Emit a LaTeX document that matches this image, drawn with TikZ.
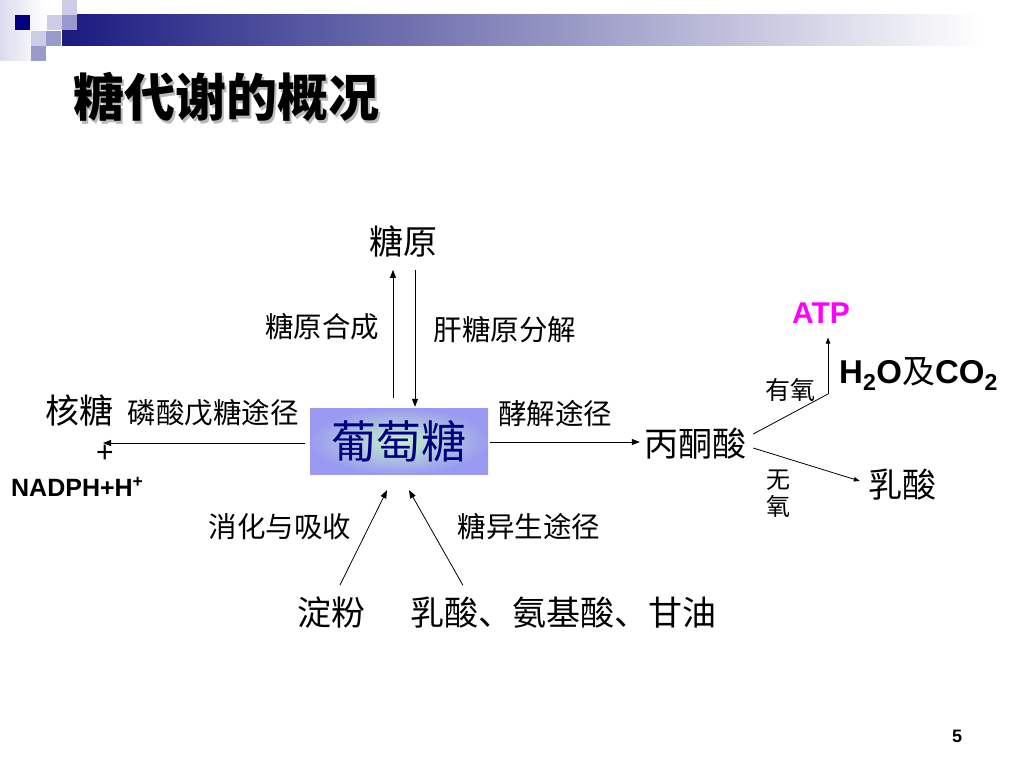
\documentclass[tikz,border=0pt]{standalone}
\usepackage{fontspec}
\usepackage{xcolor}
\setmainfont{Liberation Sans}
\newfontfamily\cjk{Noto Sans CJK SC}
\usetikzlibrary{arrows.meta}
\definecolor{navy}{HTML}{000080}
\definecolor{bandblue}{HTML}{1A1A80}
\definecolor{bandmid}{HTML}{B4B4CC}
\definecolor{lav}{HTML}{9999CC}
\definecolor{lavlight}{HTML}{CCCCE6}
\definecolor{boxblue}{HTML}{9A9AF2}
\definecolor{boxgreen}{HTML}{C6F2C6}
\definecolor{atpcolor}{HTML}{FF00FF}

\begin{document}
\begin{tikzpicture}[x = 1pt, y = -1pt,
    label/.style = {inner sep = 0pt, font = \cjk\fontsize{28.5}{30}\selectfont},
    compound/.style = {inner sep = 0pt, font = \cjk\fontsize{34}{36}\selectfont},
    latin/.style = {inner sep = 0pt, font = \bfseries\fontsize{25}{27}\selectfont},
    flow/.style = {-{Triangle[length = 8pt, width = 6pt]}, line width = .8pt},
    branch/.style = {-{Triangle[length = 6pt, width = 4.5pt]}, line width = .8pt}]
      \useasboundingbox (0, 0) rectangle (1024, 768);
      \shade[left color = lavlight!70, right color = white] (0, 0) rectangle (45, 60);
      \shade[left color = bandblue, middle color = bandmid, right color = white] (62, 15) rectangle (980, 46);
      \fill[navy] (15, 15) rectangle (30, 30);
      \fill[lavlight] (47, 15) rectangle (62, 30);
      \fill[lavlight] (62, 0) rectangle (77, 15);
      \fill[lav] (62, 15) rectangle (77, 30);
      \fill[lavlight] (31, 31) rectangle (46, 46);
      \fill[lav] (46, 31) rectangle (61, 46);
      \fill[lav] (31, 46) rectangle (46, 61);
      \node [inner sep = 0pt, font = \cjk\bfseries\fontsize{51}{54}\selectfont, text = gray!55] (shadow) at (228.5, 99.5) {糖代谢的概况};
      \node [inner sep = 0pt, font = \cjk\bfseries\fontsize{51}{54}\selectfont] (title) at (226, 97) {糖代谢的概况};
      \node [inner sep = 0pt, minimum width = 178pt, minimum height = 66pt, inner color = boxgreen, outer color = boxblue, text = navy, font = \cjk\fontsize{45}{48}\selectfont] (glucose) at (399, 441) {葡萄糖};
      \node [compound] (glycogen) at (403, 242) {糖原};
      \node [label] (synth) at (322, 327) {糖原合成};
      \node [label] (lysis) at (505, 330) {肝糖原分解};
      \node [compound] (ribose) at (79, 411) {核糖};
      \node [label] (ppp) at (213, 413) {磷酸戊糖途径};
      \node [inner sep = 0pt, font = \fontsize{30}{30}\selectfont] (plus) at (105, 454) {+};
      \node [latin, anchor = west] (nadph) at (11, 487) {NADPH+H\textsuperscript{+}};
      \coordinate (pentose) at (103, 443);
      \node [label] (glyco) at (555, 414) {酵解途径};
      \node [compound] (pyruvate) at (695, 444) {丙酮酸};
      \node [latin, text = atpcolor, font = \bfseries\fontsize{30}{32}\selectfont] (atp) at (821, 313) {ATP};
      \node [latin, anchor = base west, font = \bfseries\fontsize{33}{35}\selectfont] (water) at (839, 383) {H\textsubscript{2}O{\cjk\mdseries 及}CO\textsubscript{2}};
      \node [label, font = \cjk\fontsize{25}{27}\selectfont] (aerobic) at (790, 390) {有氧};
      \node [label, font = \cjk\fontsize{24}{27}\selectfont, align = center] (anaerobic) at (778, 494) {无\\氧};
      \node [compound] (lactate) at (902, 485) {乳酸};
      \coordinate (fork) at (828, 394);
      \node [compound] (starch) at (331, 613) {淀粉};
      \node [compound] (sources) at (563, 613) {乳酸、氨基酸、甘油};
      \node [label] (digest) at (280, 527) {消化与吸收};
      \node [label] (gng) at (529, 527) {糖异生途径};
      \node [latin, font = \bfseries\fontsize{18}{20}\selectfont] (page) at (957, 736) {5};
      \draw[flow, shorten <= 10pt, shorten >= 12pt] ([xshift = -6pt]glucose.north) -- ([xshift = -6pt]glucose.north |- glycogen.south);
      \draw[flow, shorten <= 12pt, shorten >= 1pt] ([xshift = 16pt]glucose.north |- glycogen.south) -- ([xshift = 16pt]glucose.north);
      \draw[flow, shorten <= 5pt] ([yshift = -2pt]glucose.west) -- (pentose);
      \draw[flow, shorten <= 2pt, shorten >= 4pt] ([yshift = -1pt]glucose.east) -- ([yshift = -1pt]glucose.east -| pyruvate.west);
      \draw[line width = .8pt] ([shift = {(7, -10)}]pyruvate.east) -- (fork);
      \draw[branch, shorten >= 14pt] (fork) -- (fork |- atp.south);
      \draw[branch] ([shift = {(7, 4)}]pyruvate.east) -- ([shift = {(-8, -4)}]lactate.west);
      \draw[flow] ([shift = {(9, -12)}]starch.north) -- ([shift = {(-12, 16)}]glucose.south);
      \draw[flow] ([shift = {(53, -12)}]sources.north west) -- ([shift = {(10, 16)}]glucose.south);
    \end{tikzpicture}
\end{document}
